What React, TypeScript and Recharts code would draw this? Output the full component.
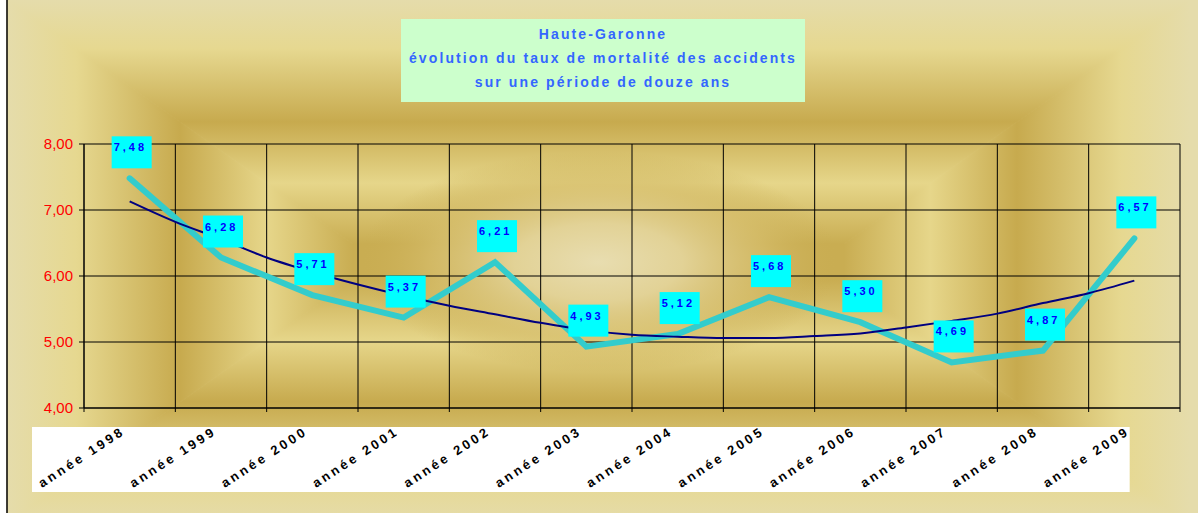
import React from "react";
import { LineChart, Line, XAxis, YAxis, CartesianGrid } from "recharts";

const YEARS = ["année 1998", "année 1999", "année 2000", "année 2001", "année 2002", "année 2003", "année 2004", "année 2005", "année 2006", "année 2007", "année 2008", "année 2009"];
const TAUX = [7.48, 6.28, 5.71, 5.37, 6.21, 4.93, 5.12, 5.68, 5.3, 4.69, 4.87, 6.57];
const TREND_POS = [0.5, 1, 1.5, 2, 2.5, 3, 3.5, 4, 4.5, 5, 5.5, 6, 6.5, 7, 7.5, 8, 8.5, 9, 9.5, 10, 10.5, 11, 11.5];
const TREND_VAL = [7.13, 6.82, 6.56, 6.28, 6.06, 5.87, 5.7, 5.55, 5.42, 5.29, 5.18, 5.11, 5.08, 5.06, 5.06, 5.09, 5.13, 5.22, 5.32, 5.43, 5.59, 5.74, 5.93];
const Y_TICKS = [4, 5, 6, 7, 8];
const X_TICKS = [0, 1, 2, 3, 4, 5, 6, 7, 8, 9, 10, 11, 12];
const TITLE = ["Haute-Garonne", "évolution du taux de mortalité des accidents", "sur une période de douze ans"];

const data = TAUX.map((v, i) => ({ x: i + 0.5, taux: v }));
const trend = TREND_POS.map((p, i) => ({ x: p, tendance: TREND_VAL[i] }));

const FONT = "'Liberation Sans', Arial, sans-serif";

const STOPS: [number, string][] = [
  [0, "#e5dcab"],
  [0.2, "#e6d890"],
  [0.5, "#c7aa4e"],
  [0.75, "#e6d68a"],
  [1, "#c9ad52"],
];

function Background() {
  const L = 7, R = 1190, T = 0, B = 524;
  const xc1 = 353, xc2 = 844, yc1 = 244, yc2 = 280;
  const cx = (L + R) / 2, cy = (T + B) / 2;
  const grads = [
    { id: "gT", x1: cx, y1: T, x2: cx, y2: yc1, pts: `${L},${T} ${R},${T} ${xc2},${yc1} ${xc1},${yc1}` },
    { id: "gB", x1: cx, y1: B, x2: cx, y2: yc2, pts: `${L},${B} ${R},${B} ${xc2},${yc2} ${xc1},${yc2}` },
    { id: "gL", x1: L, y1: cy, x2: xc1, y2: cy, pts: `${L},${T} ${xc1},${yc1} ${xc1},${yc2} ${L},${B}` },
    { id: "gR", x1: R, y1: cy, x2: xc2, y2: cy, pts: `${R},${T} ${xc2},${yc1} ${xc2},${yc2} ${R},${B}` },
  ];
  return (
    <svg width={1198} height={513} style={{ position: "absolute", left: 0, top: 0 }}>
      <defs>
        {grads.map((g) => (
          <linearGradient key={g.id} id={g.id} gradientUnits="userSpaceOnUse" x1={g.x1} y1={g.y1} x2={g.x2} y2={g.y2}>
            {STOPS.map(([o, c], i) => (
              <stop key={i} offset={o} stopColor={c} />
            ))}
          </linearGradient>
        ))}
        <radialGradient id="glow" gradientUnits="userSpaceOnUse" cx={cx} cy={cy} r={240} gradientTransform={`translate(${cx} ${cy}) scale(1 0.46) translate(${-cx} ${-cy})`}>
          <stop offset={0} stopColor="#e8ddb0" stopOpacity={1} />
          <stop offset={0.35} stopColor="#e2d296" stopOpacity={1} />
          <stop offset={0.7} stopColor="#d6be6c" stopOpacity={0.7} />
          <stop offset={1} stopColor="#c9ad52" stopOpacity={0} />
        </radialGradient>
      </defs>
      <rect x={L} y={T} width={1198 - L} height={B - T} fill="#e5dcab" />
      {grads.map((g) => (
        <polygon key={g.id} points={g.pts} fill={`url(#${g.id})`} stroke={`url(#${g.id})`} strokeWidth={0.8} />
      ))}
      <rect x={xc1} y={yc1} width={xc2 - xc1} height={yc2 - yc1} fill="#c9ad52" />
      <rect x={cx - 260} y={cy - 130} width={520} height={260} fill="url(#glow)" />
      <line x1={L} y1={0} x2={L} y2={513} stroke="#000" strokeWidth={1.5} />
    </svg>
  );
}

function XTick(props: any) {
  const { x, y, payload } = props;
  const v = payload.value;
  if (v >= YEARS.length) return <g />;
  return (
    <g>
      <rect x={x - 52} y={y + 15} width={93} height={65} fill="#ffffff" />
      <text
        x={x - 42}
        y={y + 76}
        transform={`rotate(-33 ${x - 42} ${y + 76})`}
        fill="#000"
        fontFamily={FONT}
        fontWeight="bold"
        fontSize={13}
        letterSpacing={3}
      >
        {YEARS[v]}
      </text>
    </g>
  );
}

function DataLabel(props: any) {
  const { x, y, value } = props;
  if (x == null || y == null) return null;
  const txt = Number(value).toFixed(2).replace(".", ",");
  return (
    <g>
      <rect x={x - 18} y={y - 42} width={40} height={32} fill="#00ffff" />
      <text x={x - 16} y={y - 27} fill="#0000ff" fontFamily={FONT} fontWeight="bold" fontSize={11} letterSpacing={3}>
        {txt}
      </text>
    </g>
  );
}

export default function App() {
  return (
    <div style={{ position: "absolute", left: 0, top: 0, width: 1198, height: 513, overflow: "hidden" }}>
      <Background />
      <div style={{ position: "absolute", left: 0, top: 0 }}>
        <LineChart width={1198} height={513} margin={{ top: 144, right: 18, bottom: 15, left: 0 }}>
          <CartesianGrid stroke="#000" strokeOpacity={1} strokeWidth={1} />
          <XAxis
            type="number"
            dataKey="x"
            domain={[0, 12]}
            ticks={X_TICKS}
            interval={0}
            allowDuplicatedCategory={false}
            height={90}
            tickSize={4}
            tickMargin={0}
            tickLine={{ stroke: "#000" }}
            axisLine={{ stroke: "#000" }}
            tick={<XTick />}
          />
          <YAxis
            type="number"
            domain={[4, 8]}
            ticks={Y_TICKS}
            width={84}
            tickSize={5}
            tickMargin={6}
            tickLine={{ stroke: "#000" }}
            axisLine={{ stroke: "#000" }}
            tickFormatter={(v: number) => v.toFixed(2).replace(".", ",")}
            tick={{ fill: "#ff0000", fontSize: 15, fontFamily: FONT }}
          />
          <Line
            data={data}
            dataKey="taux"
            type="linear"
            stroke="#33cccc"
            strokeWidth={6}
            strokeLinecap="round"
            dot={false}
            activeDot={false}
            isAnimationActive={false}
          />
          <Line
            data={trend}
            dataKey="tendance"
            type="monotone"
            stroke="#000080"
            strokeWidth={2}
            dot={false}
            activeDot={false}
            isAnimationActive={false}
          />
          <Line
            data={data}
            dataKey="taux"
            type="linear"
            stroke="none"
            dot={false}
            activeDot={false}
            isAnimationActive={false}
            label={<DataLabel />}
          />
        </LineChart>
      </div>
      <div
        style={{
          position: "absolute",
          left: 401,
          top: 19,
          width: 404,
          height: 83,
          background: "#ccffcc",
          color: "#3366ff",
          fontFamily: FONT,
          fontWeight: "bold",
          fontSize: 14,
          letterSpacing: 2.1,
          lineHeight: "24px",
          textAlign: "center",
          paddingTop: 3,
          boxSizing: "border-box",
          whiteSpace: "nowrap",
        }}
      >
        {TITLE.map((t, i) => (
          <div key={i}>{t}</div>
        ))}
      </div>
    </div>
  );
}
